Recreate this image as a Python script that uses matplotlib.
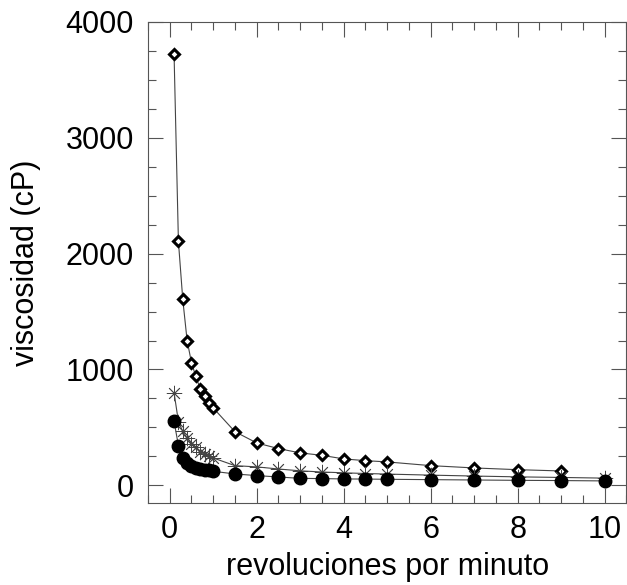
import matplotlib
matplotlib.use("Agg")
from matplotlib import pyplot as plt
from matplotlib.ticker import MultipleLocator

plt.rcParams['font.family'] = ['Liberation Sans', 'DejaVu Sans']

# rpm readings
rpm = [0.1, 0.2, 0.3, 0.4, 0.5, 0.6, 0.7, 0.8, 0.9, 1.0, 1.5,
       2, 2.5, 3, 3.5, 4, 4.5, 5, 6, 7, 8, 9, 10]

# viscosity (cP) of the three samples
visc_diamond = [3720, 2105, 1605, 1250, 1060, 940, 834, 768, 711, 668, 463,
                366, 317, 280, 259, 228, 213, 202, 170, 150, 135, 124]
visc_star = [800, 550, 466, 409, 360, 327, 285, 270, 250, 236, 170,
             159, 141, 125, 115, 108, 102, 97, 88, 80, 73, 68, 62]
visc_circle = [552, 343, 239, 193, 164, 150, 141, 135, 130, 121, 98,
               84, 72, 60, 58, 55, 54, 52, 49, 46, 43, 41, 38]

fig = plt.figure(figsize=(6.27, 5.85), dpi=100)
ax = fig.add_axes([0.236, 0.1407, 0.763, 0.8217])

line_kw = dict(color='#444444', linewidth=0.8)
ax.plot(rpm[:len(visc_diamond)], visc_diamond, marker='D', markersize=5.2,
        markerfacecolor='white', markeredgecolor='black', markeredgewidth=2.2, **line_kw)
ax.plot(rpm, visc_star, marker=(8, 2, 0), markersize=11,
        markeredgecolor='#444444', markeredgewidth=0.6, **line_kw)
ax.plot(rpm, visc_circle, marker='o', markersize=9,
        markerfacecolor='black', markeredgecolor='black', **line_kw)

ax.set_xlim(-0.5, 10.5)
ax.set_ylim(-150, 4000)
ax.xaxis.set_major_locator(MultipleLocator(2))
ax.xaxis.set_minor_locator(MultipleLocator(0.5))
ax.yaxis.set_major_locator(MultipleLocator(1000))
ax.yaxis.set_minor_locator(MultipleLocator(250))

ax.tick_params(which='both', direction='in', top=True, right=True,
               color='#555555', width=0.8, labelsize=22)
ax.tick_params(which='major', length=11)
ax.tick_params(which='minor', length=5.5)
ax.tick_params(axis='x', which='major', pad=9)
ax.tick_params(axis='y', which='major', pad=10)
for s in ax.spines.values():
    s.set_color('#555555')
    s.set_linewidth(0.8)

ax.set_xlabel('revoluciones por minuto', fontsize=22, labelpad=5)
ax.set_ylabel('viscosidad (cP)', fontsize=22, labelpad=18)

plt.savefig('out.png', dpi=100)
